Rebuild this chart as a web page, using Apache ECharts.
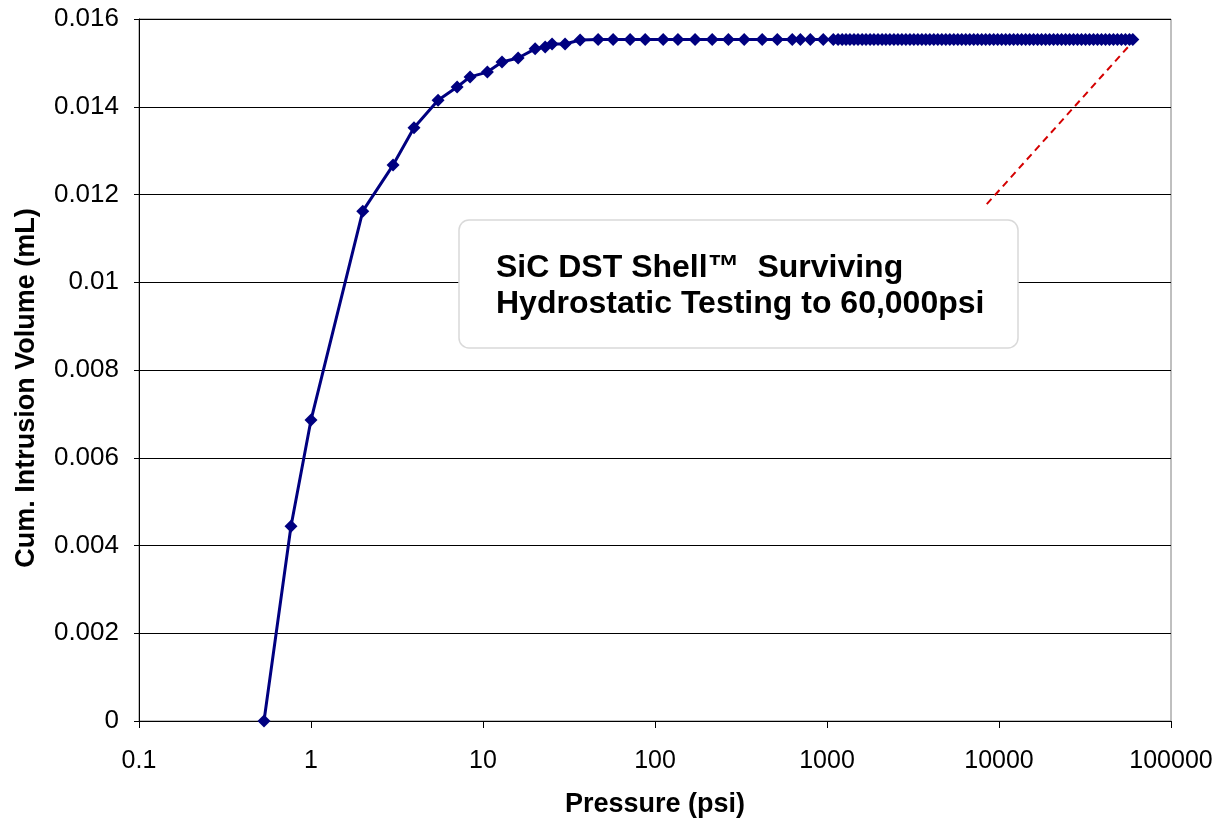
<!DOCTYPE html>
<html>
<head>
<meta charset="utf-8">
<script src="https://cdn.jsdelivr.net/npm/echarts@6/dist/echarts.min.js"></script>
<style>
html,body{margin:0;padding:0;background:#fff;}
#chart{width:1219px;height:823px;}
</style>
</head>
<body>
<div id="chart"></div>
<script>
// Pressure (psi) values
var pressure = [
  0.533, 0.765, 1.0, 2.0, 3.0, 3.97, 5.48, 7.07, 8.41, 10.6, 12.9, 16.0, 20.1, 23.0, 25.2, 30.0, 36.7,
  46.7, 57.1, 71.7, 87.7, 111.6, 136, 171, 215, 267, 330, 420, 514, 628, 700, 800, 951, 1088,
  1160, 1225, 1290, 1360, 1435, 1515, 1600, 1685, 1780, 1875, 1980, 2090, 2200, 2320, 2450, 2585,
  2725, 2875, 3035, 3200, 3375, 3560, 3755, 3960, 4180, 4410, 4650, 4905, 5175, 5460, 5760, 6075,
  6410, 6760, 7130, 7520, 7935, 8370, 8830, 9315, 9825, 10365, 10935, 11535, 12165, 12835, 13540,
  14280, 15065, 15890, 16765, 17685, 18655, 19680, 20760, 21900, 23100, 24370, 25710, 27120, 28610,
  30180, 31840, 33590, 35430, 37380, 39430, 41600, 43880, 46290, 48830, 51510, 54340, 57330, 60000
];
// Cumulative intrusion volume (mL)
var volume = [
  0, 0.00444, 0.00686, 0.01162, 0.01267, 0.01352, 0.01415, 0.01445, 0.01468, 0.01479, 0.01502, 0.01511, 0.01532, 0.01536, 0.01543, 0.01543, 0.01552,
  0.01553, 0.01553, 0.01553, 0.01553, 0.01553, 0.01553, 0.01553, 0.01553, 0.01553, 0.01553, 0.01553, 0.01553, 0.01553, 0.01553, 0.01553, 0.01553, 0.01553,
  0.01553, 0.01553, 0.01553, 0.01553, 0.01553, 0.01553, 0.01553, 0.01553, 0.01553, 0.01553, 0.01553, 0.01553, 0.01553, 0.01553, 0.01553, 0.01553,
  0.01553, 0.01553, 0.01553, 0.01553, 0.01553, 0.01553, 0.01553, 0.01553, 0.01553, 0.01553, 0.01553, 0.01553, 0.01553, 0.01553, 0.01553, 0.01553,
  0.01553, 0.01553, 0.01553, 0.01553, 0.01553, 0.01553, 0.01553, 0.01553, 0.01553, 0.01553, 0.01553, 0.01553, 0.01553, 0.01553, 0.01553,
  0.01553, 0.01553, 0.01553, 0.01553, 0.01553, 0.01553, 0.01553, 0.01553, 0.01553, 0.01553, 0.01553, 0.01553, 0.01553, 0.01553,
  0.01553, 0.01553, 0.01553, 0.01553, 0.01553, 0.01553, 0.01553, 0.01553, 0.01553, 0.01553, 0.01553, 0.01553, 0.01553, 0.01553
];
// Red dashed guide line endpoints
var guidePressure = [8490, 57700];
var guideVolume = [0.01178, 0.01541];

var xTicks = ['0.1', '1', '10', '100', '1000', '10000', '100000'];
var xTitle = 'Pressure (psi)';
var yTitle = 'Cum. Intrusion Volume (mL)';
var noteLines = ['SiC DST Shell\u2122  Surviving', 'Hydrostatic Testing to 60,000psi'];

var FONT = '"Liberation Sans", Arial, sans-serif';

var mainData = pressure.map(function (p, i) { return [p, volume[i]]; });
var guideData = guidePressure.map(function (p, i) { return [p, guideVolume[i]]; });

var chart = echarts.init(document.getElementById('chart'), null, {renderer: 'canvas'});
chart.setOption({
  animation: false,
  backgroundColor: '#ffffff',
  grid: {
    left: 139, right: 48, top: 19, bottom: 102,
    show: true, borderColor: '#808080', borderWidth: 1, backgroundColor: 'transparent'
  },
  xAxis: {
    type: 'log', logBase: 10, min: 0.1, max: 100000,
    axisLine: {lineStyle: {color: '#000', width: 1}},
    axisTick: {show: true, length: 7, lineStyle: {color: '#000'}},
    minorTick: {show: false},
    splitLine: {show: false},
    axisLabel: {
      color: '#000', fontFamily: FONT, fontSize: 25, margin: 28,
      formatter: function (v) {
        var idx = Math.round(Math.log10(v)) + 1;
        return xTicks[idx] !== undefined ? xTicks[idx] : String(v);
      }
    }
  },
  yAxis: {
    type: 'value', min: 0, max: 0.016, interval: 0.002,
    axisLine: {show: true, lineStyle: {color: '#000', width: 1}},
    axisTick: {show: true, length: 5, lineStyle: {color: '#000'}},
    splitLine: {show: true, lineStyle: {color: '#000', width: 1}},
    axisLabel: {
      color: '#000', fontFamily: FONT, fontSize: 26, margin: 20,
      formatter: function (v) { return String(parseFloat(v.toFixed(4))); }
    }
  },
  series: [
    {
      type: 'line', data: guideData, symbol: 'none', z: 1,
      lineStyle: {color: '#d40000', width: 2, type: [7, 5]}
    },
    {
      type: 'line', data: mainData, symbol: 'diamond', symbolSize: 13, z: 2,
      lineStyle: {color: '#000080', width: 3},
      itemStyle: {color: '#000080', borderWidth: 0}
    }
  ],
  graphic: [
    {
      type: 'rect', shape: {x: 459, y: 220, width: 559, height: 128, r: 10},
      style: {fill: '#fff', stroke: '#d9d9d9', lineWidth: 1.5}, z: 10
    },
    {
      type: 'text', x: 496, y: 268, z: 11,
      style: {text: noteLines[0], font: 'bold 32px ' + FONT, fill: '#000', textVerticalAlign: 'middle', verticalAlign: 'middle'}
    },
    {
      type: 'text', x: 496, y: 304, z: 11,
      style: {text: noteLines[1], font: 'bold 32px ' + FONT, fill: '#000', textVerticalAlign: 'middle', verticalAlign: 'middle'}
    },
    {
      type: 'text', x: 655, y: 805, z: 11,
      style: {text: xTitle, font: 'bold 27px ' + FONT, fill: '#000', align: 'center', textAlign: 'center', verticalAlign: 'middle', textVerticalAlign: 'middle'}
    },
    {
      type: 'text', x: 27, y: 388, rotation: Math.PI / 2, z: 11,
      style: {text: yTitle, font: 'bold 27px ' + FONT, fill: '#000', align: 'center', textAlign: 'center', verticalAlign: 'middle', textVerticalAlign: 'middle'}
    }
  ]
});
</script>
</body>
</html>
